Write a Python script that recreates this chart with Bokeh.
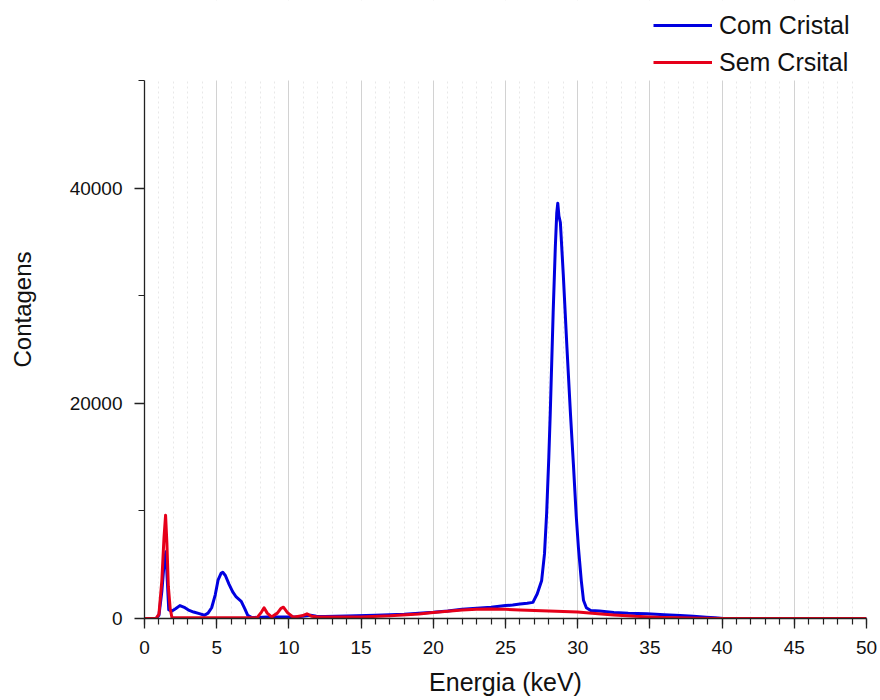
from bokeh.plotting import figure
from bokeh.models import FixedTicker, Legend, LegendItem, Range1d
from bokeh.embed import file_html
from bokeh.resources import INLINE

# Com Cristal (blue)
energy_com = [0, 0.8, 1.0, 1.2, 1.35, 1.48, 1.58, 1.68, 1.9, 2.15, 2.45, 2.8, 3.1, 3.4,
              3.8, 4.15, 4.4, 4.65, 4.9, 5.1, 5.3, 5.42, 5.6, 5.85, 6.1, 6.35, 6.7, 6.95,
              7.15, 7.4, 7.8, 8.5, 9.5, 10.5, 11.2, 11.5, 11.9, 12.5, 14, 16, 18, 20,
              21, 22, 23, 24, 25, 25.5, 26, 26.5, 26.9, 27.2, 27.5, 27.7, 27.85, 28.0,
              28.1, 28.3, 28.45, 28.55, 28.62, 28.7, 28.8, 29.0, 29.25, 29.5, 29.7,
              29.9, 30.05, 30.25, 30.4, 30.6, 30.9, 31.5, 32.5, 33.5, 34.8, 36, 37.1,
              38, 38.9, 39.5, 40.1, 50]
counts_com = [0, 0, 300, 2500, 5000, 6200, 3500, 800, 700, 900, 1200, 1000, 750, 600,
              450, 300, 500, 1000, 2200, 3600, 4200, 4300, 4000, 3200, 2500, 2000, 1600,
              900, 300, 120, 100, 150, 130, 150, 250, 300, 200, 180, 230, 300, 400, 580,
              700, 850, 950, 1050, 1200, 1250, 1350, 1420, 1500, 2300, 3500, 6000, 9800,
              15000, 19100, 28400, 34500, 37700, 38600, 37400, 36800, 32000, 25300,
              19000, 14400, 9500, 6600, 3500, 1700, 1000, 750, 700, 550, 480, 430, 350,
              280, 200, 120, 60, 0, 0]

# Sem Crsital (red)
energy_sem = [0, 0.8, 1.0, 1.2, 1.35, 1.46, 1.55, 1.65, 1.78, 1.9, 2.5, 4, 6, 7.8, 8.1,
              8.28, 8.5, 8.8, 9.2, 9.45, 9.62, 9.9, 10.3, 10.9, 11.25, 11.6, 12, 13, 15,
              17, 19, 20, 21, 22, 23, 24, 25, 26, 27, 28, 29, 30, 31, 32.5, 34, 35, 36,
              37, 38.5, 40, 50]
counts_sem = [0, 0, 400, 3500, 7500, 9600, 7000, 3000, 900, 100, 60, 60, 70, 80, 600,
              1000, 500, 150, 500, 950, 1050, 550, 120, 250, 430, 200, 130, 130, 150,
              250, 420, 560, 680, 780, 850, 880, 850, 800, 750, 700, 650, 600, 480, 320,
              200, 150, 100, 70, 30, 0, 0]

x_major = [0, 5, 10, 15, 20, 25, 30, 35, 40, 45, 50]
x_minor = list(range(0, 51))
y_major = [0, 20000, 40000]
y_minor = [10000, 30000, 50000]
Y_MAX = 50000

BLUE = "#0000e0"
RED = "#e6001a"
FONT = "Liberation Sans"

FRAME_H = 618          # frame spans canvas y 0..618
AXIS_H = 538           # pixels used by 0..Y_MAX
y_end = Y_MAX * FRAME_H / AXIS_H

p = figure(width=880, height=700, output_backend="svg", toolbar_location=None,
           x_range=Range1d(0, 50), y_range=Range1d(0, y_end),
           min_border_left=144, min_border_right=14, min_border_top=0,
           min_border_bottom=82, title=None)
p.outline_line_color = None
p.background_fill_color = "white"
p.border_fill_color = "white"

# grid
p.ygrid.visible = False
p.xgrid.ticker = FixedTicker(ticks=x_major, minor_ticks=x_minor)
p.xgrid.grid_line_color = "#d2d2d2"
p.xgrid.grid_line_width = 1
p.xgrid.minor_grid_line_color = "#e8e8e8"
p.xgrid.minor_grid_line_dash = "2 3"
p.xgrid.minor_grid_line_width = 1

# white cover above the plotted area (hides grid above Y_MAX)
p.quad(left=[0], right=[50], bottom=[Y_MAX], top=[y_end],
       fill_color="white", line_color=None)

r_com = p.line(energy_com, counts_com, line_color=BLUE, line_width=3, line_join="round")
r_sem = p.line(energy_sem, counts_sem, line_color=RED, line_width=3, line_join="round")

# axes
p.xaxis.ticker = FixedTicker(ticks=x_major, minor_ticks=x_minor)
p.yaxis.ticker = FixedTicker(ticks=y_major, minor_ticks=y_minor)
p.yaxis.bounds = (0, Y_MAX)
for ax in (p.xaxis, p.yaxis):
    ax.major_label_text_font = FONT
    ax.major_label_text_font_size = "19px"
    ax.major_label_text_color = "#111111"
    ax.axis_label_text_font = FONT
    ax.axis_label_text_font_style = "normal"
    ax.axis_label_text_color = "#111111"
    ax.axis_line_color = "#222222"
    ax.axis_line_width = 1.3
    ax.major_tick_line_color = "#222222"
    ax.minor_tick_line_color = "#222222"
    ax.major_tick_line_width = 1.3
    ax.minor_tick_line_width = 1.2
    ax.major_tick_in = 0
    ax.minor_tick_in = 0
p.xaxis.axis_label_text_font_size = "25px"
p.yaxis.axis_label_text_font_size = "24px"
p.xaxis.major_tick_out = 10
p.xaxis.minor_tick_out = 6
p.yaxis.major_tick_out = 10
p.yaxis.minor_tick_out = 6
p.xaxis.axis_label = "Energia (keV)"
p.yaxis.axis_label = "Contagens"
p.xaxis.major_label_standoff = 12
p.yaxis.major_label_standoff = 12
p.xaxis.axis_label_standoff = 11
p.yaxis.axis_label_standoff = 31

legend = Legend(items=[LegendItem(label="Com Cristal", renderers=[r_com]),
                       LegendItem(label="Sem Crsital", renderers=[r_sem])],
                location=(509, 539), orientation="vertical")
legend.border_line_color = None
legend.background_fill_alpha = 0
legend.label_text_font = FONT
legend.label_text_font_size = "25px"
legend.label_text_color = "#111111"
legend.glyph_width = 59
legend.glyph_height = 34
legend.label_height = 34
legend.spacing = 3
legend.label_standoff = 7
legend.padding = 4
legend.margin = 0
p.add_layout(legend, "center")

open("out.html", "w").write(file_html(p, INLINE))
